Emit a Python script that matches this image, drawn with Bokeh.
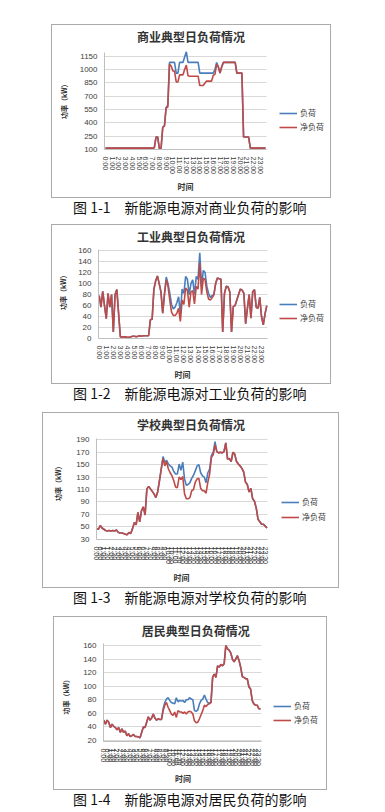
from bokeh.plotting import figure
from bokeh.models import FixedTicker, Legend, LegendItem, Range1d, Div, Label, Grid
from bokeh.layouts import column
from bokeh.embed import file_html
from bokeh.resources import INLINE

# ---------------- data (96 quarter-hour points per day) ----------------
hour_labels = ["%d:00" % h for h in range(24)]
half_labels = ["%d:%s" % (h, m) for h in range(24) for m in ("00", "30")]

legend_names = ["负荷", "净负荷"]

# 1) commercial
com_load = ([115] * 29 + [120, 240, 240, 110, 115, 350, 365, 570, 600,
            1080, 1080, 1080, 1080, 960, 960, 1080, 1080, 1080, 1140, 1200,
            1080, 1080, 1080, 1080, 1080, 1080, 1080, 960, 960, 960, 960, 960,
            960, 960, 960, 960, 1000, 1080, 1030, 960, 1030, 1080, 1080, 1080,
            1080, 1080, 1080, 1080, 1080, 960, 960, 960, 960, 240, 240, 240, 240]
            + [115] * 10)
com_net = ([115] * 29 + [120, 240, 240, 110, 115, 350, 365, 570, 575,
           1060, 1040, 985, 980, 860, 860, 940, 940, 940, 1000, 1050,
           930, 925, 925, 925, 925, 925, 925, 820, 820, 820, 845, 870,
           870, 870, 870, 935, 945, 1060, 1030, 960, 1030, 1080, 1080, 1080,
           1080, 1080, 1080, 1080, 1080, 960, 960, 960, 960, 240, 240, 240, 240]
           + [115] * 10)

# 2) industrial
ind_net = [78, 57, 86, 60, 36, 82, 57, 80, 12, 80,
           89, 45, 3, 3, 3, 3, 2, 2, 3, 4,
           4, 3, 4, 5, 4, 5, 5, 5, 5, 34,
           35, 90, 105, 114, 100, 85, 46, 81, 107, 95,
           70, 48, 42, 42, 46, 55, 31, 70, 62, 92,
           88, 57, 85, 87, 63, 95, 90, 138, 80, 110,
           107, 85, 72, 70, 74, 80, 100, 110, 109, 108,
           12, 82, 95, 94, 85, 12, 58, 60, 70, 80,
           90, 88, 82, 27, 55, 80, 37, 85, 89, 57,
           55, 75, 40, 25, 45, 60]
ind_load = [78, 57, 86, 60, 36, 82, 57, 80, 12, 80,
            89, 45, 3, 3, 3, 3, 2, 2, 3, 4,
            4, 3, 4, 5, 4, 5, 5, 5, 5, 34,
            35, 90, 105, 114, 100, 85, 46, 81, 112, 100,
            82, 62, 54, 57, 65, 76, 45, 90, 82, 113,
            108, 80, 100, 107, 80, 113, 108, 156, 95, 124,
            120, 95, 82, 75, 78, 80, 100, 110, 109, 108,
            12, 82, 95, 94, 85, 12, 58, 60, 70, 80,
            90, 88, 82, 27, 55, 80, 37, 85, 89, 57,
            55, 75, 40, 25, 45, 60]

# 3) school
sch_net = [47, 46, 52, 48, 46, 44, 43, 44, 43, 44,
           43, 45, 41, 40, 40, 39, 38, 37, 41, 39,
           47, 57, 53, 73, 58, 76, 82, 69, 111, 115,
           111, 107, 103, 97, 106, 124, 143, 160, 148, 155,
           143, 137, 132, 124, 114, 113, 130, 126, 131, 103,
           95, 95, 97, 108, 110, 122, 127, 128, 112, 108,
           108, 104, 122, 135, 162, 166, 182, 171, 169, 170,
           169, 171, 185, 159, 160, 155, 170, 167, 155, 151,
           148, 144, 138, 122, 118, 106, 112, 95, 91, 80,
           62, 58, 54, 54, 51, 48]
sch_load = [47, 46, 52, 48, 46, 44, 43, 44, 43, 44,
            43, 45, 41, 40, 40, 39, 38, 37, 41, 39,
            47, 57, 53, 73, 58, 76, 82, 69, 111, 115,
            111, 107, 103, 97, 106, 124, 143, 163, 154, 157,
            151, 148, 146, 139, 135, 135, 151, 141, 154, 127,
            117, 118, 121, 128, 133, 140, 148, 150, 137, 132,
            130, 121, 137, 143, 165, 170, 187, 171, 169, 170,
            169, 171, 185, 159, 160, 155, 170, 167, 155, 151,
            148, 144, 138, 122, 118, 106, 112, 95, 91, 80,
            62, 58, 54, 54, 51, 48]

# 4) residential
res_net = [50, 44, 50, 47, 39, 44, 41, 39, 36, 39,
           32, 37, 32, 34, 27, 30, 26, 27, 29, 26,
           26, 25, 24, 32, 40, 39, 47, 55, 50, 53,
           59, 53, 50, 52, 51, 51, 64, 72, 76, 69,
           64, 59, 57, 62, 54, 64, 62, 62, 60, 62,
           59, 62, 63, 62, 59, 49, 46, 47, 52, 58,
           64, 72, 70, 73, 74, 76, 113, 118, 113, 130,
           128, 132, 130, 133, 160, 155, 153, 149, 140, 136,
           140, 145, 138, 128, 114, 113, 111, 111, 99, 96,
           79, 74, 72, 72, 67, 66]
res_load = [50, 44, 50, 47, 39, 44, 41, 39, 36, 39,
            32, 37, 32, 34, 27, 30, 26, 27, 29, 26,
            26, 25, 24, 32, 40, 39, 47, 55, 50, 53,
            59, 53, 50, 52, 51, 51, 67, 76, 81, 83,
            79, 76, 75, 74, 83, 77, 79, 78, 79, 76,
            80, 80, 83, 81, 80, 64, 63, 65, 74, 79,
            81, 87, 81, 76, 75, 76, 113, 118, 113, 130,
            128, 132, 130, 133, 160, 155, 153, 149, 140, 136,
            140, 145, 138, 128, 114, 113, 111, 111, 99, 96,
            79, 74, 72, 72, 67, 66]

titles = ["商业典型日负荷情况", "工业典型日负荷情况", "学校典型日负荷情况", "居民典型日负荷情况"]
captions = ["图 1-1\u3000新能源电源对商业负荷的影响",
            "图 1-2\u3000新能源电源对工业负荷的影响",
            "图 1-3\u3000新能源电源对学校负荷的影响",
            "图 1-4\u3000新能源电源对居民负荷的影响"]
y_ticks = [[100, 250, 400, 550, 700, 850, 1000, 1150],
           [0, 20, 40, 60, 80, 100, 120, 140, 160],
           [30, 50, 70, 90, 110, 130, 150, 170, 190],
           [20, 40, 60, 80, 100, 120, 140, 160]]
y_label = "功率（kW）"
x_label = "时间"

CJK = "Noto Sans CJK SC"
LAT = "Liberation Sans"
BLUE = "#4a7ebb"
RED = "#be4b48"
PAD = "\u3000"

# frame = plot area extended up to the box top and right to the box edge
configs = [
    dict(w=278, h=172, ml=51, mt=24, mb=(52, 48), xr=(-0.59, 133.61), yr=(100, 1495.4),
         xb=(-0.59, 95.59), yb=(100, 1195), tpos=(50.77, 1371.7),
         step=4, lab=hour_labels, ypad=4, xpad=8, ystand=8, xstand=4,
         leg=(175, 17), sp=3, capH=26, capLH=19, load=com_load, net=com_net),
    dict(w=278, h=158, ml=51, mt=0, mb=(46, 44), xr=(-0.4, 131.1), yr=(0, 205.8),
         xb=(-0.4, 95.4), yb=(0, 162.4), tpos=(52.04, 185.9),
         step=4, lab=hour_labels, ypad=3, xpad=8, ystand=7, xstand=3,
         leg=(181, 15), sp=3, capH=28, capLH=19, load=ind_load, net=ind_net),
    dict(w=295, h=174, ml=42, mt=0, mb=(53, 48), xr=(-0.1, 134.87), yr=(29.5, 232.4),
         xb=(-0.1, 95.3), yb=(29.5, 192.1), tpos=(52.6, 214.7),
         step=2, lab=half_labels, ypad=2, xpad=9, ystand=10, xstand=5,
         leg=(185, 17), sp=4, capH=28, capLH=19, load=sch_load, net=sch_net),
    dict(w=272, h=172, ml=53, mt=0, mb=(49, 48), xr=(-0.18, 135.05), yr=(18.53, 201.2),
         xb=(-0.18, 95.6), yb=(18.53, 162.9), tpos=(55.8, 182.0),
         step=2, lab=half_labels, ypad=5, xpad=8, ystand=9, xstand=4,
         leg=(170, 16), sp=3, capH=21, capLH=19, load=res_load, net=res_net),
]

has_cross = "cross_bounds" in Grid.properties()

items = []
for i, c in enumerate(configs):
    l, b = c["mb"]
    p = figure(width=c["w"], height=c["h"], output_backend="svg", toolbar_location=None,
               title=None, x_range=Range1d(*c["xr"]), y_range=Range1d(*c["yr"]),
               min_border_left=l, min_border_right=0, min_border_top=0, min_border_bottom=b)
    p.outline_line_color = None
    p.background_fill_alpha = 0
    p.border_fill_alpha = 0
    p.xgrid.visible = False
    p.ygrid.grid_line_color = "#d9d9d9"
    p.ygrid.grid_line_width = 1
    if has_cross:
        p.ygrid.cross_bounds = c["xb"]

    p.yaxis.ticker = FixedTicker(ticks=y_ticks[i])
    p.yaxis.bounds = c["yb"]
    p.yaxis.major_label_text_font = LAT
    p.yaxis.major_label_text_font_size = "8px"
    p.yaxis.major_label_text_color = "#404040"
    p.yaxis.major_tick_out = 0
    p.yaxis.major_tick_in = 0
    p.yaxis.minor_tick_line_color = None
    p.yaxis.axis_line_color = "#bfbfbf"
    p.yaxis.major_label_standoff = 7
    p.yaxis.axis_label = y_label + PAD * c["ypad"]
    p.yaxis.axis_label_text_font = CJK
    p.yaxis.axis_label_text_font_size = "7px"
    p.yaxis.axis_label_text_font_style = "bold"
    p.yaxis.axis_label_text_color = "#333333"
    p.yaxis.axis_label_standoff = c["ystand"]

    n = len(c["lab"])
    xt = [k * c["step"] for k in range(n)]
    p.xaxis.ticker = FixedTicker(ticks=xt)
    p.xaxis.bounds = c["xb"]
    p.xaxis.major_label_overrides = {xt[k]: c["lab"][k] for k in range(n)}
    p.xaxis.major_label_orientation = "vertical"
    p.xaxis.major_label_text_font = LAT
    p.xaxis.major_label_text_font_size = "7px"
    p.xaxis.major_label_text_color = "#404040"
    p.xaxis.major_tick_out = 0
    p.xaxis.major_tick_in = 0
    p.xaxis.minor_tick_line_color = None
    p.xaxis.axis_line_color = "#bfbfbf"
    p.xaxis.major_label_standoff = 7
    p.xaxis.axis_label = x_label + PAD * c["xpad"]
    p.xaxis.axis_label_text_font = CJK
    p.xaxis.axis_label_text_font_size = "8px"
    p.xaxis.axis_label_text_font_style = "bold"
    p.xaxis.axis_label_text_color = "#333333"
    p.xaxis.axis_label_standoff = c["xstand"]

    r1 = p.line(list(range(len(c["load"]))), c["load"], line_color=BLUE, line_width=1.6)
    r2 = p.line(list(range(len(c["net"]))), c["net"], line_color=RED, line_width=1.6)

    leg = Legend(items=[LegendItem(label=legend_names[0], renderers=[r1]),
                        LegendItem(label=legend_names[1], renderers=[r2])],
                 location=c["leg"], orientation="vertical",
                 label_text_font=CJK, label_text_font_size="8px", label_text_color="#404040",
                 glyph_width=18, glyph_height=10, label_height=10, label_standoff=3,
                 spacing=c["sp"], padding=0, margin=0,
                 border_line_color=None, background_fill_alpha=0)
    p.add_layout(leg)

    p.add_layout(Label(x=c["tpos"][0], y=c["tpos"][1], text=titles[i],
                       text_font=CJK, text_font_size="12px", text_font_style="bold",
                       text_color="#333333", text_align="center", text_baseline="middle"))

    box = column(p, margin=(c["mt"], 0, 0, c["ml"]),
                 styles={"border": "1px solid #aaaaaa", "background-color": "white"})
    items.append(box)

    cap = Div(text=captions[i], width=300, height=c["capH"], margin=(0, 0, 0, 73),
              styles={"font-family": CJK, "font-size": "14px", "line-height": "%dpx" % c["capLH"],
                      "color": "#111111", "overflow": "hidden", "white-space": "nowrap"})
    items.append(cap)

layout = column(*items, spacing=0)
open("out.html", "w").write(file_html(layout, INLINE))
